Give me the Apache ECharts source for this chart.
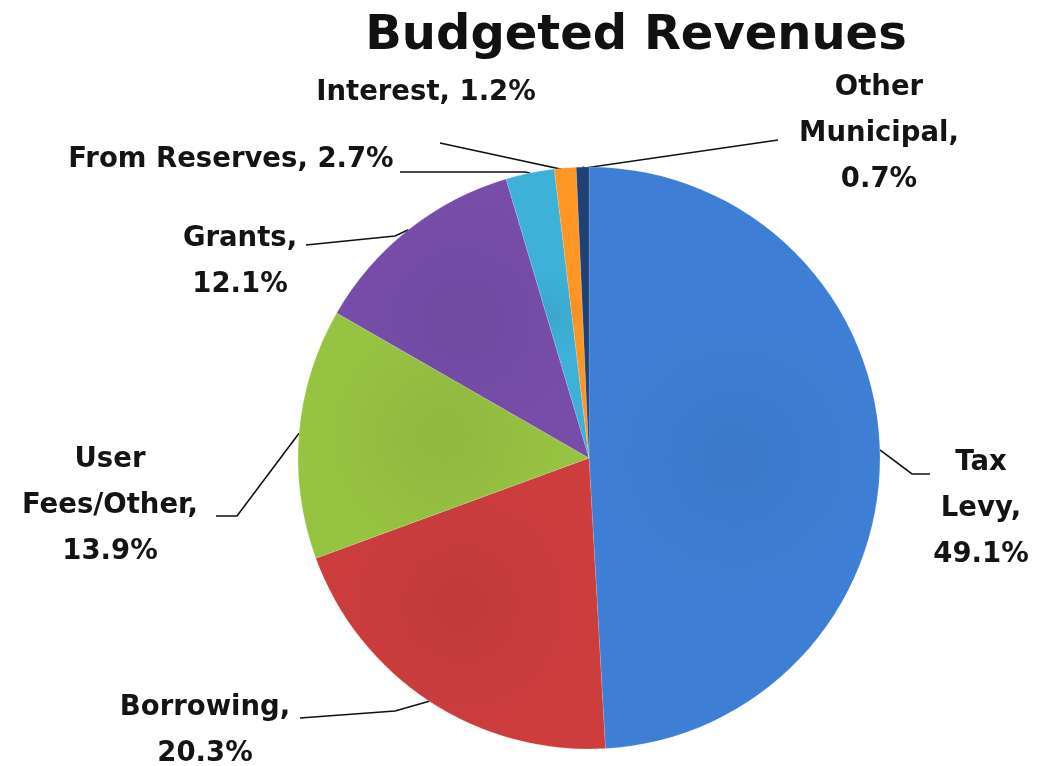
<!DOCTYPE html>
<html>
<head>
<meta charset="utf-8">
<script src="https://cdn.jsdelivr.net/npm/echarts@6/dist/echarts.min.js"></script>
<style>
html,body{margin:0;padding:0;background:#fff;}
#chart{width:1046px;height:766px;}
</style>
</head>
<body>
<div id="chart"></div>
<script>
// ---- data ----
const categories = ['Tax Levy', 'Borrowing', 'User Fees/Other', 'Grants', 'From Reserves', 'Interest', 'Other Municipal'];
const values = [49.1, 20.3, 13.9, 12.1, 2.7, 1.2, 0.7];
const labelNames = ['Tax\nLevy,', 'Borrowing,', 'User\nFees/Other,', 'Grants,', 'From Reserves,', 'Interest,', 'Other\nMunicipal,'];
const labelBreak = [true, true, true, true, false, false, true];
const titleText = 'Budgeted Revenues';

// ---- styles ----
const colors = ['#3b78c9', '#c23a3b', '#8fb83f', '#7149a0', '#3aa7cc', '#f48e22', '#1e3e6d'];
// label placement (anchor of text, alignment, and label-line elbow/end)
const labelPlace = [
  {x: 981, y: 509, align: 'center', elbow: [912, 474], end: [930, 474]},
  {x: 205, y: 731, align: 'center', elbow: [395, 711], end: [300, 718]},
  {x: 110, y: 506, align: 'center', elbow: [237, 516], end: [216, 516]},
  {x: 240, y: 262, align: 'center', elbow: [395, 236], end: [306, 245]},
  {x: 231, y: 160, align: 'center', elbow: [525, 172], end: [400, 172]},
  {x: 426, y: 93, align: 'center', elbow: [565, 170], end: [440, 143]},
  {x: 879, y: 134, align: 'center', elbow: [585, 168], end: [778, 140]}
];

function shade(c) {
  return {
    type: 'radial', x: 0.5, y: 0.5, r: 0.5,
    colorStops: [{offset: 0, color: c}, {offset: 1, color: echarts.color.lift(c, -0.06)}]
  };
}

const chart = echarts.init(document.getElementById('chart'));
chart.setOption({
  animation: false,
  backgroundColor: '#fff',
  title: {
    text: titleText,
    left: 631, top: 8, textAlign: 'center',
    textStyle: {fontFamily: 'DejaVu Sans', fontWeight: 'bold', fontSize: 48, color: '#111'}
  },
  series: [{
    type: 'pie',
    center: [589, 458],
    radius: [0, 291],
    startAngle: 90,
    clockwise: true,
    avoidLabelOverlap: false,
    data: categories.map((n, i) => ({
      name: n, value: values[i],
      itemStyle: {color: shade(colors[i])}
    })),
    itemStyle: {borderColor: 'rgba(255,255,255,0.25)', borderWidth: 0.5},
    label: {
      show: true,
      fontFamily: 'DejaVu Sans', fontWeight: 'bold', fontSize: 27.5, color: '#141414',
      lineHeight: 46,
      formatter: p => labelNames[p.dataIndex] + (labelBreak[p.dataIndex] ? '\n' : ' ') + p.value.toFixed(1) + '%'
    },
    labelLine: {show: true, lineStyle: {color: '#111', width: 1.6}},
    labelLayout: function (params) {
      const lp = labelPlace[params.dataIndex];
      const start = params.labelLinePoints ? params.labelLinePoints[0] : lp.elbow;
      return {
        x: lp.x, y: lp.y, align: lp.align, verticalAlign: 'middle',
        labelLinePoints: [start, lp.elbow, lp.end]
      };
    }
  }]
});
</script>
</body>
</html>
